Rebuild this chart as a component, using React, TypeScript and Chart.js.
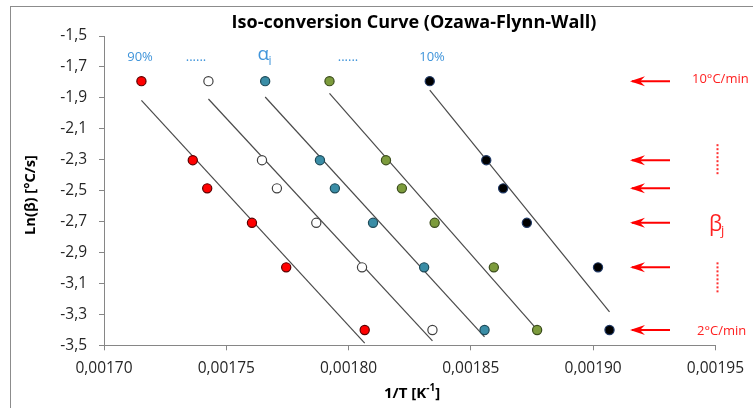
import React, { useEffect, useRef } from "react";
import { Chart, registerables } from "chart.js";

Chart.register(...registerables);

// Heating rates (°C/min) and ln(beta [°C/s]) per row
const rateLabels = ["10°C/min", "", "", "", "", "2°C/min"];
const lnBeta = [-1.792, -2.303, -2.485, -2.708, -2.996, -3.401];

// 1/T values for each conversion level (90% ... 10%)
const invT90 = [0.0017153, 0.0017363, 0.0017422, 0.0017605, 0.0017745, 0.0018066];
const invTa = [0.0017427, 0.0017646, 0.0017707, 0.0017868, 0.0018055, 0.0018343];
const invTb = [0.0017659, 0.0017883, 0.0017944, 0.00181, 0.0018309, 0.0018556];
const invTc = [0.0017922, 0.0018153, 0.0018218, 0.0018352, 0.0018594, 0.0018771];
const invT10 = [0.0018332, 0.0018563, 0.0018632, 0.0018729, 0.001902, 0.0019067];

const seriesX = [invT90, invTa, invTb, invTc, invT10];
const fills = ["#FF0000", "#FFFFFF", "#3A8DA6", "#7C9B3C", "#000000"];
const borders = ["#5a0000", "#404040", "#1e4a58", "#3b4d1c", "#1F3864"];

const xTicks = { min: 0.0017, max: 0.00195, step: 0.00005 };
const yTicks = { min: -3.5, max: -1.5, step: 0.2 };

const FONT = "'Open Sans', 'Liberation Sans', sans-serif";

function fit(xs: number[], ys: number[]) {
  const n = xs.length;
  const mx = xs.reduce((a, b) => a + b, 0) / n;
  const my = ys.reduce((a, b) => a + b, 0) / n;
  let sxy = 0, sxx = 0;
  for (let i = 0; i < n; i++) {
    sxy += (xs[i] - mx) * (ys[i] - my);
    sxx += (xs[i] - mx) * (xs[i] - mx);
  }
  const m = sxy / sxx;
  const b = my - m * mx;
  const x0 = Math.min(...xs), x1 = Math.max(...xs);
  return [{ x: x0, y: m * x0 + b }, { x: x1, y: m * x1 + b }];
}

function fitText(ctx: CanvasRenderingContext2D, text: string, weight: string, target: number, start: number) {
  let size = start;
  ctx.font = `${weight} ${size}px ${FONT}`;
  const w = ctx.measureText(text).width;
  size = size * target / w;
  ctx.font = `${weight} ${size}px ${FONT}`;
  return size;
}

const decorPlugin = {
  id: "decor",
  beforeDraw(chart: any) {
    const ctx = chart.ctx;
    ctx.save();
    ctx.strokeStyle = "#8c8c8c";
    ctx.lineWidth = 1;
    ctx.strokeRect(10.5, 6.5, 900, 600);
    ctx.restore();
  },
  afterDraw(chart: any) {
    const ctx: CanvasRenderingContext2D = chart.ctx;
    const ys = chart.scales.y;
    ctx.save();
    // Title
    ctx.fillStyle = "#000";
    ctx.textAlign = "center";
    ctx.textBaseline = "alphabetic";
    const title = "Iso-conversion Curve (Ozawa-Flynn-Wall)";
    fitText(ctx, title, "bold", 365, 16);
    ctx.fillText(title, 414, 28);

    // Y title
    ctx.save();
    ctx.translate(35, 195);
    ctx.rotate(-Math.PI / 2);
    const yt = "Ln(β) [°C/s]";
    fitText(ctx, yt, "bold", 80, 14);
    ctx.textBaseline = "alphabetic";
    ctx.fillText(yt, 0, 0);
    ctx.restore();

    // X title: 1/T [K^-1]
    ctx.font = `bold 15px ${FONT}`;
    ctx.textAlign = "left";
    const p1 = "1/T [K", sup = "-1", p3 = "]";
    const w1 = ctx.measureText(p1).width;
    ctx.font = `bold 10px ${FONT}`;
    const w2 = ctx.measureText(sup).width;
    ctx.font = `bold 15px ${FONT}`;
    const w3 = ctx.measureText(p3).width;
    let sx = 412 - (w1 + w2 + w3) / 2;
    ctx.fillText(p1, sx, 398);
    ctx.font = `bold 10px ${FONT}`;
    ctx.fillText(sup, sx + w1, 391);
    ctx.font = `bold 15px ${FONT}`;
    ctx.fillText(p3, sx + w1 + w2, 398);

    // Top conversion labels
    const blue = "#3F94DA";
    ctx.fillStyle = blue;
    ctx.textAlign = "center";
    ctx.font = `13px ${FONT}`;
    ctx.fillText("90%", 140, 61);
    ctx.fillText("......", 196, 61);
    ctx.fillText("......", 348, 61);
    ctx.fillText("10%", 432, 61);
    ctx.font = `19px ${FONT}`;
    ctx.textAlign = "right";
    ctx.fillText("α", 269, 60);
    ctx.textAlign = "left";
    ctx.font = `12px ${FONT}`;
    ctx.fillText("i", 268.5, 65);

    // Right side arrows
    ctx.strokeStyle = "#FF0000";
    ctx.fillStyle = "#FF0000";
    ctx.lineWidth = 2;
    for (let i = 0; i < lnBeta.length; i++) {
      const py = ys.getPixelForValue(lnBeta[i]);
      ctx.beginPath();
      ctx.moveTo(670, py);
      ctx.lineTo(632, py);
      ctx.stroke();
      ctx.beginPath();
      ctx.moveTo(630, py);
      ctx.lineTo(645, py - 5);
      ctx.lineTo(640, py);
      ctx.lineTo(645, py + 5);
      ctx.closePath();
      ctx.fill();
    }
    // Rate labels
    ctx.fillStyle = "#FF2020";
    ctx.textAlign = "left";
    ctx.font = `13px ${FONT}`;
    const r0 = ys.getPixelForValue(lnBeta[0]);
    const r5 = ys.getPixelForValue(lnBeta[5]);
    ctx.fillText(rateLabels[0], 692, r0 + 1.5);
    ctx.fillText(rateLabels[5], 697, r5 + 5);
    // beta_j
    ctx.font = `21px ${FONT}`;
    const r3 = ys.getPixelForValue(lnBeta[3]);
    ctx.fillText("β", 709, r3 + 8);
    ctx.font = `13px ${FONT}`;
    ctx.fillText("j", 721, r3 + 12);
    // dotted verticals
    ctx.fillStyle = "#FF3030";
    const r1 = ys.getPixelForValue(lnBeta[1]);
    const r4 = ys.getPixelForValue(lnBeta[4]);
    for (const [a, b] of [[r1 - 16, r1 + 13], [r4 - 5, r4 + 25]]) {
      for (let y = a; y <= b; y += 4) ctx.fillRect(716.5, y, 2, 2);
    }
    ctx.restore();
  },
};

export default function App() {
  const ref = useRef<HTMLCanvasElement>(null);
  useEffect(() => {
    if (!ref.current) return;
    const datasets: any[] = [];
    seriesX.forEach((xs) => {
      datasets.push({
        type: "line",
        data: fit(xs, lnBeta),
        borderColor: "#4a4a4a",
        borderWidth: 1.2,
        pointRadius: 0,
        fill: false,
        order: 2,
      });
    });
    seriesX.forEach((xs, k) => {
      datasets.push({
        type: "scatter",
        data: xs.map((x, i) => ({ x, y: lnBeta[i] })),
        backgroundColor: fills[k],
        borderColor: borders[k],
        borderWidth: 1.2,
        pointRadius: 4.6,
        order: 1,
      });
    });
    const grid = { drawOnChartArea: false, drawTicks: true, tickLength: 5, color: "#868686", lineWidth: 1 };
    const chart = new Chart(ref.current, {
      type: "scatter",
      data: { datasets },
      options: {
        animation: false,
        responsive: false,
        layout: { padding: { top: 36, right: 29.7, left: 0, bottom: 0 } },
        plugins: { legend: { display: false }, tooltip: { enabled: false }, title: { display: false } },
        scales: {
          x: {
            type: "linear",
            min: xTicks.min,
            max: xTicks.max,
            border: { color: "#868686", width: 1 },
            grid,
            afterFit: (s: any) => { s.height = 62.7; },
            afterBuildTicks: (s: any) => {
              const t = [];
              for (let v = xTicks.min; v <= xTicks.max + 1e-9; v += xTicks.step) t.push({ value: Math.round(v * 1e6) / 1e6 });
              s.ticks = t;
            },
            ticks: {
              padding: 9,
              color: "#262626",
              font: { family: FONT, size: 15.5 },
              maxRotation: 0,
              callback: (v: any) => Number(v).toFixed(5).replace(".", ","),
            },
          },
          y: {
            type: "linear",
            min: yTicks.min,
            max: yTicks.max,
            border: { color: "#868686", width: 1 },
            grid,
            afterFit: (s: any) => { s.width = 104; },
            afterBuildTicks: (s: any) => {
              const t = [];
              for (let i = 0; i <= 10; i++) t.push({ value: Math.round((yTicks.min + i * yTicks.step) * 10) / 10 });
              s.ticks = t;
            },
            ticks: {
              padding: 12,
              color: "#262626",
              font: { family: FONT, size: 15.5 },
              callback: (v: any) => Number(v).toFixed(1).replace(".", ","),
            },
          },
        },
      } as any,
      plugins: [decorPlugin],
    });
    return () => chart.destroy();
  }, []);
  return (
    <div style={{ position: "fixed", left: 0, top: 0, width: 753, height: 408, background: "#fff" }}>
      <canvas ref={ref} width={753} height={408} style={{ width: 753, height: 408 }} />
    </div>
  );
}
